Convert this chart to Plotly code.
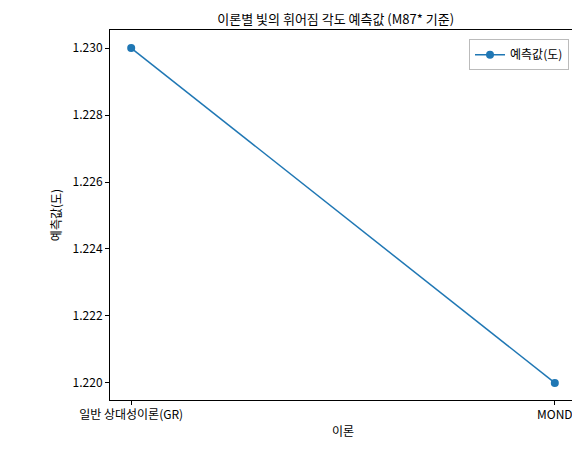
import plotly.graph_objects as go

theories = ["일반 상대성이론(GR)", "MOND"]
predicted_deg = [1.230, 1.220]
y_ticks = [1.220, 1.222, 1.224, 1.226, 1.228, 1.230]

font = "Noto Sans CJK KR, DejaVu Sans, sans-serif"

fig = go.Figure()
fig.add_trace(go.Scatter(
    x=[0, 1], y=predicted_deg, mode="lines+markers", name="예측값(도)",
    line=dict(color="#1f77b4", width=1.5),
    marker=dict(color="#1f77b4", size=8),
))

axis_common = dict(
    showline=True, linecolor="black", linewidth=1, mirror=True,
    ticks="outside", tickcolor="black", ticklen=4, showgrid=False, zeroline=False,
    tickfont=dict(size=12, color="black"),
)

fig.update_layout(
    width=580, height=455,
    margin=dict(l=102, r=12, t=22, b=63),
    paper_bgcolor="white", plot_bgcolor="white",
    font=dict(family=font, color="black"),
    title=dict(text="이론별 빛의 휘어짐 각도 예측값 (M87* 기준)", x=0.565, xanchor="center",
               y=0.985, yanchor="top", font=dict(size=13)),
    xaxis=dict(range=[-0.05, 1.05], tickvals=[0, 1], ticktext=theories,
               title=dict(text="이론", font=dict(size=12), standoff=6), **axis_common),
    yaxis=dict(range=[1.21949, 1.23054], tickvals=y_ticks,
               ticktext=[f"{v:.3f}" for v in y_ticks],
               title=dict(text="예측값(도)", font=dict(size=12), standoff=8), **axis_common),
    showlegend=True,
    legend=dict(x=0.985, y=0.975, xanchor="right", yanchor="top",
                bordercolor="#bbbbbb", borderwidth=1, font=dict(size=12)),
)

fig.write_html("out.html")
